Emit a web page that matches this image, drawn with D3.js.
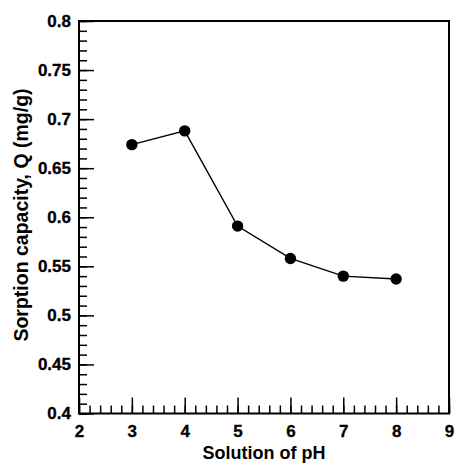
<!DOCTYPE html>
<html>
<head>
<meta charset="utf-8">
<script src="https://cdn.jsdelivr.net/npm/d3@7"></script>
<style>
  body { margin: 0; background: #fff; }
  svg text { font-family: "Liberation Sans", Arial, sans-serif; font-weight: 700; fill: #000; }
  .axis path { display: none; }
  .axis line { stroke: #000; stroke-width: 1.5; }
</style>
</head>
<body>
<div id="chart"></div>
<script>
const phValues = [3, 4, 5, 6, 7, 8];
const capacityValues = [0.674, 0.688, 0.591, 0.558, 0.540, 0.537];
const xTicks = [2, 3, 4, 5, 6, 7, 8, 9];
const yTicks = [0.4, 0.45, 0.5, 0.55, 0.6, 0.65, 0.7, 0.75, 0.8];
const xTitle = "Solution of pH";
const yTitle = "Sorption capacity, Q (mg/g)";

const WIDTH = 457;
const HEIGHT = 464;
const MARGIN = { top: 21, right: 8, bottom: 50.5, left: 79 };
const TICK_FONT = 17;
const TITLE_FONT = 18;

const svg = d3.select("#chart")
  .append("svg")
  .attr("width", WIDTH)
  .attr("height", HEIGHT);

const x = d3.scaleLinear().domain([2, 9]).range([MARGIN.left, WIDTH - MARGIN.right]);
const y = d3.scaleLinear().domain([0.4, 0.8]).range([HEIGHT - MARGIN.bottom, MARGIN.top]);

const fmt = d3.format("~g");
const xMinor = d3.range(2, 9.001, 0.2).map((v) => +v.toFixed(1));
const yMinor = d3.range(0.4, 0.8001, 0.01).map((v) => +v.toFixed(2));

function styleLabels(g) {
  g.attr("font-family", null).attr("font-size", null);
  g.selectAll("text")
    .style("font-family", "'Liberation Sans', Arial, sans-serif")
    .style("font-size", `${TICK_FONT}px`)
    .style("font-weight", "700")
    .attr("stroke", "#000")
    .attr("stroke-width", 0.3);
}

// minor ticks, pointing inward
svg.append("g")
  .attr("class", "axis")
  .attr("transform", `translate(0,${y.range()[0]})`)
  .call(d3.axisBottom(x).tickValues(xMinor).tickSize(-8).tickFormat(""));

svg.append("g")
  .attr("class", "axis")
  .attr("transform", `translate(${x.range()[0]},0)`)
  .call(d3.axisLeft(y).tickValues(yMinor).tickSize(-8).tickFormat(""));

// major ticks + labels
svg.append("g")
  .attr("class", "axis")
  .attr("transform", `translate(0,${y.range()[0]})`)
  .call(d3.axisBottom(x).tickValues(xTicks).tickSize(-16).tickPadding(11).tickFormat(fmt))
  .call(styleLabels);

svg.append("g")
  .attr("class", "axis")
  .attr("transform", `translate(${x.range()[0]},0)`)
  .call(d3.axisLeft(y).tickValues(yTicks).tickSize(-15).tickPadding(8).tickFormat(fmt))
  .call(styleLabels);

// frame
svg.append("rect")
  .attr("x", x.range()[0])
  .attr("y", y.range()[1])
  .attr("width", x.range()[1] - x.range()[0])
  .attr("height", y.range()[0] - y.range()[1])
  .attr("fill", "none")
  .attr("stroke", "#000")
  .attr("stroke-width", 2);

const points = phValues.map((ph, i) => ({ ph, q: capacityValues[i] }));

svg.append("path")
  .datum(points)
  .attr("fill", "none")
  .attr("stroke", "#000")
  .attr("stroke-width", 1.4)
  .attr("d", d3.line().x((d) => x(d.ph)).y((d) => y(d.q)));

svg.append("g")
  .selectAll("circle")
  .data(points)
  .join("circle")
  .attr("cx", (d) => x(d.ph))
  .attr("cy", (d) => y(d.q))
  .attr("r", 5.7)
  .attr("fill", "#000");

svg.append("text")
  .attr("x", (x.range()[0] + x.range()[1]) / 2)
  .attr("y", 459)
  .attr("text-anchor", "middle")
  .attr("font-size", TITLE_FONT)
  .text(xTitle);

svg.append("text")
  .attr("transform", `translate(28,215) rotate(-90)`)
  .attr("text-anchor", "middle")
  .attr("font-size", 19.5)
  .text(yTitle);
</script>
</body>
</html>
